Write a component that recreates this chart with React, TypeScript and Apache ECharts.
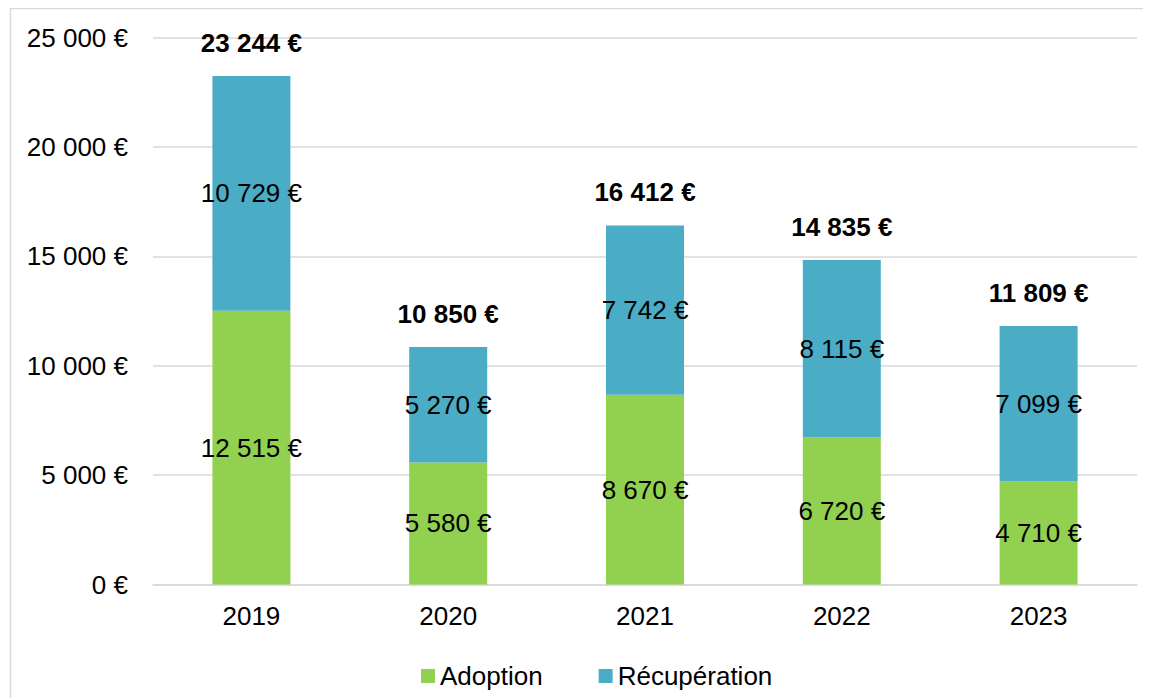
import React, { useEffect, useRef } from "react";
import * as echarts from "echarts";

const years = ["2019", "2020", "2021", "2022", "2023"];
const adoption = [12515, 5580, 8670, 6720, 4710];
const recuperation = [10729, 5270, 7742, 8115, 7099];
const totals = adoption.map((v, i) => v + recuperation[i]);

const fmt = (v: number) =>
  String(Math.round(v)).replace(/\B(?=(\d{3})+(?!\d))/g, " ") + " €";

const FONT = "'Liberation Sans', Arial, sans-serif";
const FS = 26;

export default function App() {
  const ref = useRef<HTMLDivElement>(null);
  useEffect(() => {
    if (!ref.current) return;
    const chart = echarts.init(ref.current, null, { renderer: "svg" });
    chart.setOption({
      animation: false,
      textStyle: { fontFamily: FONT },
      graphic: [
        {
          type: "rect",
          shape: { x: 2.5, y: 0.5, width: 1300, height: 800 },
          style: { fill: "none", stroke: "#d9d9d9", lineWidth: 1.5 },
          silent: true,
          z: -1,
        },
      ],
      grid: { left: 145, right: 14, top: 29.5, bottom: 113.5 },
      legend: {
        data: ["Adoption", "Récupération"],
        left: 408,
        top: 650,
        itemWidth: 14,
        itemHeight: 14,
        itemGap: 56,
        icon: "rect",
        textStyle: { fontSize: FS, color: "#000", fontFamily: FONT },
      },
      xAxis: {
        type: "category",
        data: years,
        axisLine: { lineStyle: { color: "#d9d9d9", width: 1.5 } },
        axisTick: { show: false },
        axisLabel: { fontSize: FS, color: "#000", margin: 18, fontFamily: FONT },
      },
      yAxis: {
        type: "value",
        min: 0,
        max: 25000,
        interval: 5000,
        axisLine: { show: false },
        axisTick: { show: false },
        splitLine: { lineStyle: { color: "#d9d9d9", width: 1.5 } },
        axisLabel: {
          fontSize: FS,
          color: "#000",
          margin: 25,
          fontFamily: FONT,
          formatter: (v: number) => fmt(v),
        },
      },
      series: [
        {
          name: "Adoption",
          type: "bar",
          stack: "t",
          data: adoption,
          barWidth: 78,
          itemStyle: { color: "#92D050" },
          label: {
            show: true,
            position: "inside",
            fontSize: FS,
            color: "#000",
            fontFamily: FONT,
            formatter: (p: any) => fmt(p.value),
          },
        },
        {
          name: "Récupération",
          type: "bar",
          stack: "t",
          data: recuperation,
          barWidth: 78,
          itemStyle: { color: "#4BACC6" },
          label: {
            show: true,
            position: "inside",
            fontSize: FS,
            color: "#000",
            fontFamily: FONT,
            formatter: (p: any) => fmt(p.value),
          },
        },
        {
          name: "Total",
          type: "bar",
          stack: "t",
          data: totals.map(() => 0),
          barWidth: 78,
          itemStyle: { color: "transparent" },
          silent: true,
          label: {
            show: true,
            position: "top",
            distance: 20,
            fontSize: FS,
            fontWeight: "bold",
            color: "#000",
            fontFamily: FONT,
            formatter: (p: any) => fmt(totals[p.dataIndex]),
          },
        },
      ],
    });
    return () => chart.dispose();
  }, []);
  return <div ref={ref} style={{ width: 1143, height: 690 }} />;
}
